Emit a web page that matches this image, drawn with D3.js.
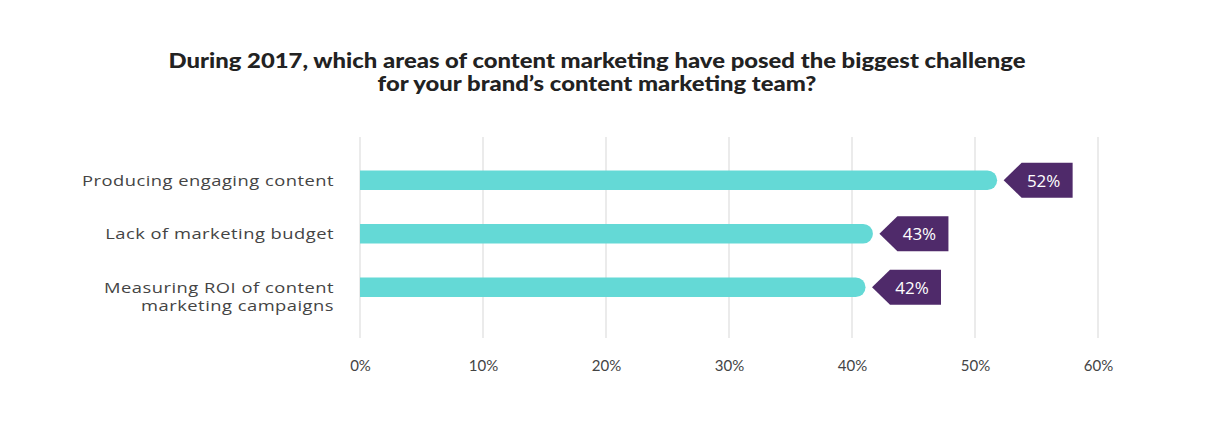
<!DOCTYPE html>
<html><head><meta charset="utf-8">
<script src="https://cdn.jsdelivr.net/npm/d3@7"></script>
<style>
html,body{margin:0;padding:0;background:#fff;}
svg{display:block;}
</style></head>
<body>
<svg id="chart" width="1216" height="445"></svg>
<script>
const titleLines = ["During 2017, which areas of content marketing have posed the biggest challenge", "for your brand\u2019s content marketing team?"];
const categories = [["Producing engaging content"], ["Lack of marketing budget"], ["Measuring ROI of content", "marketing campaigns"]];
const barValues = [51.8, 41.7, 41.1];
const valueLabels = ["52%", "43%", "42%"];
const tickValues = [0, 10, 20, 30, 40, 50, 60];

const svg = d3.select("#chart");
const x = d3.scaleLinear().domain([0, 60]).range([360, 1098]);
const y = d3.scaleBand().domain(d3.range(categories.length)).range([153.5, 314]).paddingInner(0.64).paddingOuter(0.32);
const barH = 19.5;

// stretch a set of tspans horizontally by one common factor
function stretch(sel, targetFirst) {
  const nodes = sel.nodes();
  const f = targetFirst / nodes[0].getComputedTextLength();
  nodes.forEach(n => {
    const w = n.getComputedTextLength();
    d3.select(n).attr("textLength", (w * f).toFixed(1)).attr("lengthAdjust", "spacingAndGlyphs");
  });
}

// title
const title = svg.append("text").attr("text-anchor", "middle")
  .style("font-family", "Lato").style("font-weight", 900).style("font-size", "20.5px").style("fill", "#222");
titleLines.forEach((t, i) => title.append("tspan").attr("x", 597).attr("y", 67.5 + i * 23).text(t));
stretch(title.selectAll("tspan"), 857);

// grid
svg.append("g").selectAll("line").data(tickValues).join("line")
  .attr("x1", d => x(d)).attr("x2", d => x(d)).attr("y1", 137).attr("y2", 338)
  .attr("stroke", "#e4e4e4").attr("stroke-width", 1.5);

// axis tick labels
const axis = d3.axisBottom(x).tickValues(tickValues).tickFormat(d => d + "%").tickSize(0).tickPadding(0);
const ag = svg.append("g").attr("transform", "translate(0,360)").call(axis);
ag.select(".domain").remove();
ag.selectAll("text").style("font-family", "Lato").style("font-size", "15px").style("fill", "#444").attr("dy", "0.75em").attr("y", 0);

// category labels (first line aligned with the bar)
const lab = svg.append("g").selectAll("text").data(categories).join("text")
  .attr("text-anchor", "end")
  .style("font-family", "'Open Sans'").style("font-size", "15px").style("fill", "#444").style("letter-spacing", "0.4px");
lab.each(function(lines, i) {
  const c = y(i) + y.bandwidth() / 2;
  lines.forEach((l, j) => {
    d3.select(this).append("tspan").attr("x", 334).attr("y", c + 5.5 + j * 18.5).text(l);
  });
});
stretch(lab.selectAll("tspan"), 252);

// bars with rounded right end
const r = barH / 2;
svg.append("g").selectAll("path").data(barValues).join("path")
  .attr("fill", "#64d9d6")
  .attr("d", (d, i) => {
    const c = y(i) + y.bandwidth() / 2;
    const x0 = x(0), x1 = x(d);
    const p = d3.path();
    p.moveTo(x0, c - r); p.lineTo(x1 - r, c - r);
    p.arc(x1 - r, c, r, -Math.PI / 2, Math.PI / 2);
    p.lineTo(x0, c + r); p.closePath();
    return p.toString();
  });

// tags
const tagH = 35, arrowW = 18, bodyW = 51, gap = 6.5;
const tg = svg.append("g").selectAll("g").data(barValues).join("g")
  .attr("transform", (d, i) => `translate(${x(d) + gap},${y(i) + y.bandwidth() / 2})`);
tg.append("path").attr("fill", "#4f2a6a")
  .attr("d", `M0,0 L${arrowW},${-tagH/2} L${arrowW + bodyW},${-tagH/2} L${arrowW + bodyW},${tagH/2} L${arrowW},${tagH/2} Z`);
tg.append("text").attr("x", arrowW + bodyW / 2 - 3.5).attr("y", 6.5).attr("text-anchor", "middle")
  .style("font-family", "'Open Sans'").style("font-size", "17px").style("fill", "#fff")
  .text((d, i) => valueLabels[i]);
</script>
</body></html>
